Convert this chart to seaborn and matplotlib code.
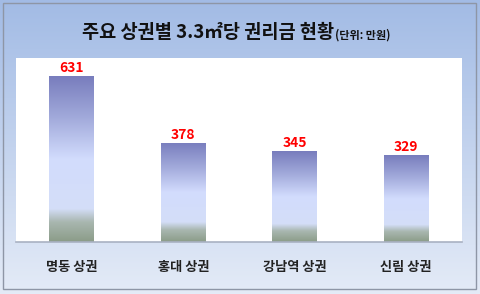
import numpy as np
import pandas as pd
import matplotlib
matplotlib.use("Agg")
import matplotlib.pyplot as plt
import seaborn as sns
from matplotlib.colors import LinearSegmentedColormap
from matplotlib.patches import Rectangle

categories = ["명동 상권", "홍대 상권", "강남역 상권", "신림 상권"]
values = [631, 378, 345, 329]
title_main = "주요 상권별 3.3㎡당 권리금 현황"
title_unit = "(단위: 만원)"

sns.set_theme(style="white")
plt.rcParams['font.family'] = ['Noto Sans CJK KR', 'DejaVu Sans']

W, H = 480, 294
fig = plt.figure(figsize=(W / 100, H / 100), dpi=100)

# background gradient
bg_ax = fig.add_axes([0, 0, 1, 1], zorder=-10)
bg_cmap = LinearSegmentedColormap.from_list("bg", ["#a2bbe5", "#c3d3ee", "#e4ebf7"])
grad = np.linspace(0, 1, 256).reshape(-1, 1)
bg_ax.imshow(grad, aspect="auto", cmap=bg_cmap, extent=[0, 1, 0, 1], origin="upper")
bg_ax.set_xlim(0, 1); bg_ax.set_ylim(0, 1)
bg_ax.axis("off")
bg_ax.add_patch(Rectangle((3 / W, 5 / H), 473 / W, 286 / H, fill=False,
                          edgecolor="#8e96a6", linewidth=1.0))

left, right = 16 / W, 462 / W
bottom, top = (H - 242) / H, (H - 58) / H
ax = fig.add_axes([left, bottom, right - left, top - bottom])
ax.set_facecolor("white")

df = pd.DataFrame({"category": categories, "value": values})
sns.barplot(data=df, x="category", y="value", ax=ax, width=0.4,
            color="#b0bce8", edgecolor="none", saturation=1)

ymax = 631 * (242 - 58) / (242 - 76)
bar_cmap = LinearSegmentedColormap.from_list(
    "bar", [(0.0, "#787dbd"), (0.25, "#a2aadb"), (0.50, "#d2dcfd"),
            (0.80, "#d4def8"), (0.88, "#a9b7b0"), (1.0, "#8b9c88")])
bgrad = np.linspace(0, 1, 256).reshape(-1, 1)
for p in ax.patches:
    x0, y0 = p.get_x(), p.get_y()
    w, h = p.get_width(), p.get_height()
    im = ax.imshow(bgrad, aspect="auto", cmap=bar_cmap,
                   extent=[x0, x0 + w, y0, y0 + h], origin="upper", zorder=2)
    im.set_clip_path(p)
    p.set_facecolor("none")
    ax.text(x0 + w / 2, y0 + h + 4, f"{int(round(h))}", ha="center", va="bottom",
            color="#ff0000", fontsize=10, fontweight="bold", zorder=3)
ax.set_aspect("auto")
ax.set_xlim(-0.5, len(categories) - 0.5)
ax.set_ylim(0, ymax)

ax.set_xlabel("")
ax.set_ylabel("")
ax.set_yticks([])
ax.tick_params(axis="x", length=0, pad=13, labelsize=9.5, labelcolor="#222222")
for lbl in ax.get_xticklabels():
    lbl.set_fontweight("bold")
for s in ["top", "left", "right"]:
    ax.spines[s].set_visible(False)
ax.spines["bottom"].set_color("#a9b1c2")
ax.spines["bottom"].set_linewidth(1.2)

t1 = fig.text(82 / W, (H - 33) / H, title_main, ha="left", va="center",
              fontsize=13.4, fontweight="bold", color="#111111")
fig.canvas.draw()
bb = t1.get_window_extent()
fig.text(bb.x1 / W + 0.002, (H - 35) / H, title_unit, ha="left", va="center",
         fontsize=8, fontweight="bold", color="#111111")

fig.savefig("out.png", dpi=100)
